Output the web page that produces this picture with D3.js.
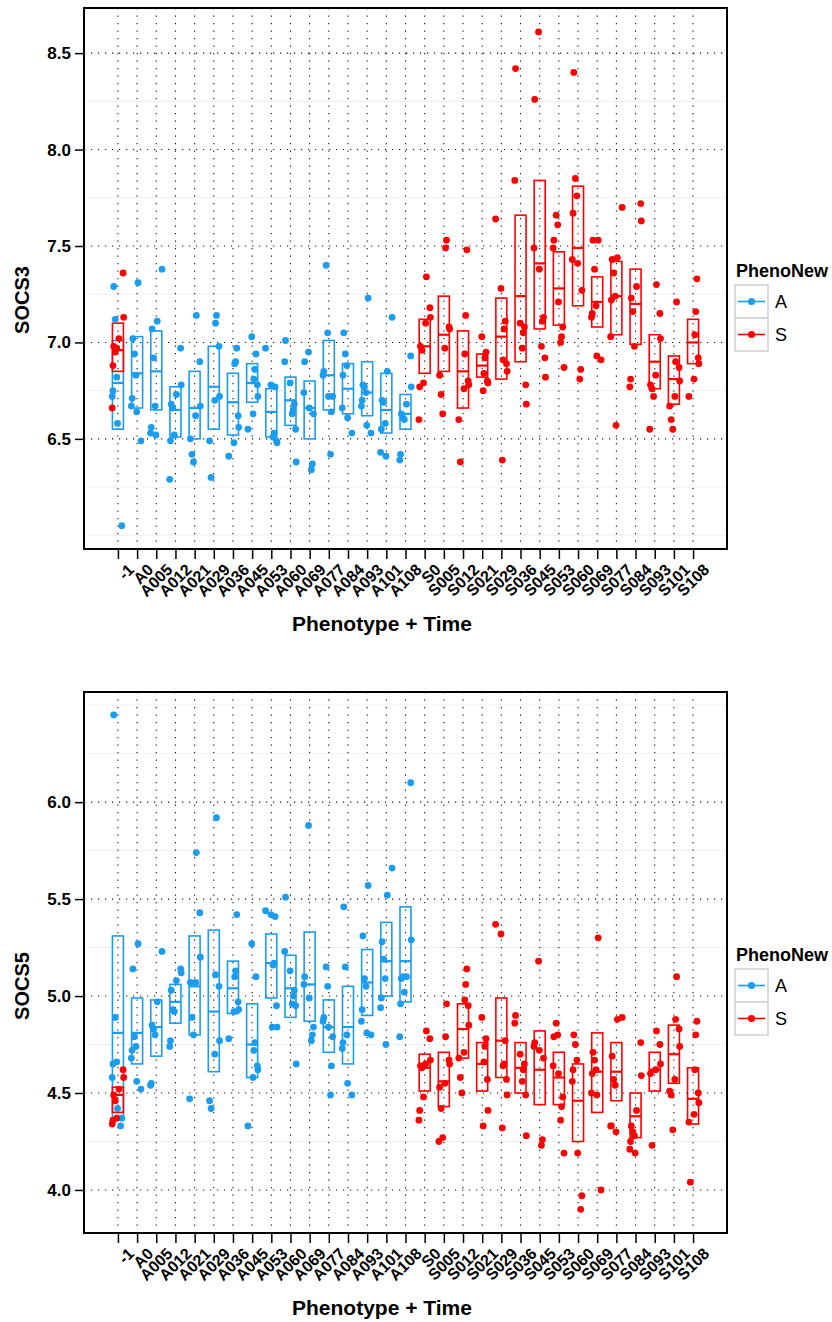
<!DOCTYPE html>
<html>
<head>
<meta charset="utf-8">
<script src="https://cdn.jsdelivr.net/npm/d3@7"></script>
<style>
  body { margin: 0; background: #fff; }
  text { font-family: "Liberation Sans", Arial, sans-serif; }
</style>
</head>
<body>
<div id="chart"></div>
<script>
// categories on the x axis (Phenotype + Time)
var categories = ["-1", "A0", "A005", "A012", "A021", "A029", "A036", "A045", "A053", "A060",
  "A069", "A077", "A084", "A093", "A101", "A108", "S0", "S005", "S012", "S021", "S029",
  "S036", "S045", "S053", "S060", "S069", "S077", "S084", "S093", "S101", "S108"];
var catsA = categories.slice(0, 16);
var catsS = ["-1"].concat(categories.slice(16));
var groups = ["A", "S"];

var socs3Ticks = [6.5, 7.0, 7.5, 8.0, 8.5];
var socs5Ticks = [4.0, 4.5, 5.0, 5.5, 6.0];

// boxes: [lower, middle, upper]
var socs3BoxA = [[6.55, 6.79, 7.01], [6.66, 6.84, 7.03], [6.65, 6.85, 7.06], [6.51, 6.65, 6.77],
  [6.50, 6.66, 6.85], [6.55, 6.77, 6.98], [6.52, 6.69, 6.84], [6.69, 6.79, 6.89],
  [6.51, 6.64, 6.76], [6.57, 6.70, 6.82], [6.50, 6.66, 6.80], [6.65, 6.83, 7.01],
  [6.63, 6.76, 6.89], [6.62, 6.74, 6.90], [6.53, 6.65, 6.84], [6.55, 6.63, 6.73]];
var socs3BoxS = [[6.85, 6.96, 7.10], [6.84, 6.98, 7.12], [6.85, 7.04, 7.24], [6.66, 6.85, 7.06],
  [6.82, 6.88, 6.94], [6.81, 7.03, 7.23], [6.90, 7.24, 7.66], [7.07, 7.41, 7.84],
  [7.09, 7.28, 7.47], [7.19, 7.49, 7.81], [7.08, 7.21, 7.34], [7.04, 7.24, 7.42],
  [6.99, 7.20, 7.38], [6.76, 6.90, 7.04], [6.68, 6.81, 6.93], [6.89, 7.00, 7.12]];

var socs3PointsA = [
  [7.29, 7.12, 6.82, 6.75, 6.72, 6.58, 6.05],
  [7.31, 7.02, 6.94, 6.83, 6.71, 6.67, 6.64, 6.49],
  [7.38, 7.11, 7.07, 6.92, 6.67, 6.56, 6.53, 6.52],
  [6.97, 6.78, 6.73, 6.68, 6.66, 6.52, 6.49, 6.29],
  [7.14, 6.90, 6.67, 6.62, 6.50, 6.42, 6.38],
  [7.14, 7.10, 6.98, 6.72, 6.70, 6.49, 6.30],
  [6.97, 6.90, 6.89, 6.62, 6.56, 6.48, 6.41],
  [7.03, 6.94, 6.86, 6.81, 6.78, 6.72, 6.63, 6.55],
  [6.97, 6.78, 6.77, 6.53, 6.51, 6.49, 6.48],
  [7.01, 6.90, 6.79, 6.68, 6.65, 6.63, 6.55, 6.38],
  [6.95, 6.90, 6.74, 6.66, 6.63, 6.37, 6.34],
  [7.40, 7.05, 6.85, 6.83, 6.72, 6.72, 6.64, 6.42],
  [7.05, 6.94, 6.88, 6.83, 6.66, 6.61, 6.53],
  [7.23, 6.78, 6.77, 6.74, 6.70, 6.67, 6.57, 6.53],
  [7.13, 6.85, 6.70, 6.69, 6.58, 6.55, 6.43, 6.41],
  [6.93, 6.77, 6.68, 6.63, 6.61, 6.60, 6.42, 6.39]];
var socs3PointsS = [
  [7.36, 7.13, 7.02, 6.98, 6.95, 6.97, 6.88, 6.66],
  [7.34, 7.18, 7.13, 7.10, 6.98, 6.96, 6.79, 6.77, 6.60],
  [7.53, 7.49, 7.08, 7.07, 6.97, 6.83, 6.73, 6.63],
  [7.48, 7.14, 6.94, 6.80, 6.78, 6.76, 6.60, 6.38],
  [7.03, 6.95, 6.92, 6.84, 6.80, 6.79, 6.75],
  [7.64, 7.28, 7.11, 7.07, 6.91, 6.89, 6.85, 6.39],
  [8.42, 7.84, 7.10, 7.08, 7.05, 6.97, 6.78, 6.68],
  [8.61, 8.26, 7.49, 7.38, 7.13, 7.11, 6.98, 6.92, 6.82],
  [7.66, 7.61, 7.53, 7.49, 7.21, 7.08, 7.03, 7.00, 6.87],
  [8.40, 7.85, 7.76, 7.67, 7.43, 7.41, 7.27, 6.86, 6.81],
  [7.53, 7.53, 7.38, 7.19, 7.15, 7.13, 6.93, 6.91],
  [7.70, 7.44, 7.43, 7.36, 7.24, 7.22, 7.03, 6.57],
  [7.72, 7.63, 7.29, 7.23, 7.16, 6.98, 6.81, 6.77],
  [7.30, 7.15, 7.02, 6.83, 6.78, 6.76, 6.72, 6.55],
  [7.21, 6.90, 6.87, 6.80, 6.72, 6.67, 6.60, 6.55],
  [7.33, 7.16, 7.04, 6.92, 6.89, 6.81, 6.72]];

var socs5BoxA = [[4.36, 4.81, 5.31], [4.65, 4.81, 4.99], [4.69, 4.84, 4.98], [4.86, 4.97, 5.06],
  [4.80, 5.05, 5.31], [4.61, 4.92, 5.34], [4.91, 5.04, 5.18], [4.58, 4.75, 4.96],
  [4.99, 5.17, 5.32], [4.89, 5.04, 5.21], [4.87, 5.06, 5.33], [4.71, 4.84, 4.98],
  [4.65, 4.84, 5.05], [4.90, 5.07, 5.24], [5.00, 5.18, 5.38], [4.97, 5.18, 5.46]];
var socs5BoxS = [[4.40, 4.49, 4.53], [4.51, 4.63, 4.70], [4.43, 4.56, 4.71], [4.68, 4.83, 4.96],
  [4.51, 4.65, 4.76], [4.58, 4.77, 4.99], [4.50, 4.63, 4.76], [4.44, 4.62, 4.82],
  [4.44, 4.58, 4.71], [4.25, 4.46, 4.65], [4.40, 4.61, 4.81], [4.46, 4.61, 4.76],
  [4.27, 4.38, 4.50], [4.51, 4.62, 4.71], [4.55, 4.70, 4.85], [4.34, 4.47, 4.63]];

var socs5PointsA = [
  [6.45, 4.89, 4.66, 4.65, 4.58, 4.42, 4.37, 4.33],
  [5.27, 5.14, 4.79, 4.74, 4.72, 4.68, 4.56, 4.52],
  [5.23, 4.97, 4.85, 4.83, 4.80, 4.55, 4.54],
  [5.14, 5.12, 5.08, 5.03, 4.93, 4.92, 4.77, 4.74],
  [5.74, 5.43, 5.20, 5.07, 5.07, 4.89, 4.80, 4.47],
  [5.92, 5.11, 5.05, 4.77, 4.70, 4.46, 4.42],
  [5.42, 5.13, 5.10, 4.97, 4.93, 4.92, 4.78],
  [5.27, 5.10, 4.76, 4.72, 4.64, 4.62, 4.58, 4.33],
  [5.44, 5.42, 5.41, 5.17, 5.16, 4.95, 4.84, 4.84],
  [5.51, 5.23, 5.13, 5.03, 5.00, 4.96, 4.95, 4.65],
  [5.88, 5.10, 5.06, 4.99, 4.84, 4.80, 4.77],
  [5.15, 5.05, 4.89, 4.87, 4.84, 4.79, 4.64, 4.49],
  [5.46, 5.15, 4.80, 4.76, 4.73, 4.55, 4.49],
  [5.57, 5.31, 5.09, 5.05, 4.93, 4.87, 4.81, 4.80],
  [5.66, 5.52, 5.28, 5.19, 5.09, 4.99, 4.94, 4.75],
  [6.10, 5.29, 5.10, 5.09, 5.10, 5.02, 4.96, 4.79]];
var socs5PointsS = [
  [4.62, 4.58, 4.52, 4.49, 4.46, 4.37, 4.36, 4.34],
  [4.82, 4.78, 4.67, 4.65, 4.64, 4.63, 4.48, 4.41, 4.36],
  [4.96, 4.79, 4.67, 4.65, 4.55, 4.53, 4.42, 4.27, 4.25],
  [5.14, 5.06, 4.98, 4.95, 4.85, 4.71, 4.68, 4.58, 4.50],
  [4.89, 4.78, 4.74, 4.66, 4.57, 4.41, 4.33],
  [5.37, 5.32, 4.77, 4.65, 4.64, 4.57, 4.49, 4.32],
  [4.90, 4.86, 4.70, 4.65, 4.62, 4.56, 4.49, 4.28],
  [5.18, 4.76, 4.74, 4.72, 4.68, 4.26, 4.23],
  [4.86, 4.80, 4.79, 4.64, 4.60, 4.48, 4.43, 4.36, 4.19],
  [4.80, 4.75, 4.67, 4.62, 4.56, 4.19, 3.97, 3.90],
  [5.30, 4.71, 4.67, 4.62, 4.60, 4.50, 4.49, 4.00],
  [4.89, 4.88, 4.69, 4.57, 4.54, 4.33, 4.33, 4.30],
  [4.76, 4.59, 4.41, 4.33, 4.30, 4.28, 4.25, 4.21, 4.19],
  [4.82, 4.75, 4.65, 4.62, 4.60, 4.23],
  [5.10, 4.88, 4.83, 4.74, 4.57, 4.51, 4.49, 4.31],
  [4.87, 4.80, 4.62, 4.50, 4.45, 4.39, 4.35, 4.04]];

var colors = { A: "#1a9cf0", S: "#ff0000" };
var jitter = [-0.22, 0.14, -0.06, 0.27, -0.3, 0.05, 0.2, -0.14, 0.09, -0.26, 0.3, -0.02];

var W = 832, H = 1322;
var svg = d3.select("#chart").append("svg").attr("width", W).attr("height", H);

var left = 84, right = 727, panelH = 541;
var x = d3.scalePoint().domain(categories).range([left, right]).padding(1.77);

function drawPanel(top, yDomain, ticks, minor, boxA, boxS, ptsA, ptsS, yTitle, yTitleY) {
  var y = d3.scaleLinear().domain(yDomain).range([top + panelH, top]);
  var g = svg.append("g");

  // minor grid
  g.selectAll(".minor").data(minor).enter().append("line")
    .attr("x1", left).attr("x2", right)
    .attr("y1", function (d) { return y(d); }).attr("y2", function (d) { return y(d); })
    .attr("stroke", "#f0f0f0").attr("stroke-width", 1);
  // major grid (dotted)
  g.selectAll(".major").data(ticks).enter().append("line")
    .attr("x1", left).attr("x2", right)
    .attr("y1", function (d) { return y(d); }).attr("y2", function (d) { return y(d); })
    .attr("stroke", "#111").attr("stroke-width", 1.1).attr("stroke-dasharray", "1.2,5.8");
  g.selectAll(".vgrid").data(categories).enter().append("line")
    .attr("x1", function (d) { return x(d); }).attr("x2", function (d) { return x(d); })
    .attr("y1", top).attr("y2", top + panelH)
    .attr("stroke", "#111").attr("stroke-width", 1.1).attr("stroke-dasharray", "1.2,6.3");

  var bw = 11;
  function boxes(cats, data, col) {
    var bg = g.append("g");
    bg.selectAll("rect").data(data).enter().append("rect")
      .attr("x", function (d, i) { return x(cats[i]) - bw / 2; })
      .attr("y", function (d) { return y(d[2]); })
      .attr("width", bw)
      .attr("height", function (d) { return y(d[0]) - y(d[2]); })
      .attr("fill", "none").attr("stroke", col).attr("stroke-width", 1.6);
    bg.selectAll("line").data(data).enter().append("line")
      .attr("x1", function (d, i) { return x(cats[i]) - bw / 2; })
      .attr("x2", function (d, i) { return x(cats[i]) + bw / 2; })
      .attr("y1", function (d) { return y(d[1]); })
      .attr("y2", function (d) { return y(d[1]); })
      .attr("stroke", col).attr("stroke-width", 2.2);
  }
  function points(cats, data, col, shift) {
    var flat = [];
    data.forEach(function (vals, i) {
      vals.forEach(function (v, j) {
        flat.push({ c: cats[i], v: v, k: (i * 5 + j * 7 + shift) % jitter.length });
      });
    });
    g.append("g").selectAll("circle").data(flat).enter().append("circle")
      .attr("cx", function (d) { return x(d.c) + jitter[d.k] * x.step(); })
      .attr("cy", function (d) { return y(d.v); })
      .attr("r", 3.4).attr("fill", col);
  }
  boxes(catsA, boxA, colors.A);
  boxes(catsS, boxS, colors.S);
  points(catsA, ptsA, colors.A, 0);
  points(catsS, ptsS, colors.S, 3);

  // panel border
  g.append("rect").attr("x", left).attr("y", top).attr("width", right - left).attr("height", panelH)
    .attr("fill", "none").attr("stroke", "#000").attr("stroke-width", 2);

  // y axis
  var ya = g.append("g").attr("transform", "translate(" + (left - 1) + ",0)")
    .call(d3.axisLeft(y).tickValues(ticks).tickSize(8).tickPadding(4).tickFormat(d3.format(".1f")));
  ya.select(".domain").remove();
  ya.selectAll("line").attr("stroke", "#000").attr("stroke-width", 1.5);
  ya.selectAll("text").attr("font-size", 17).attr("font-weight", "bold").attr("fill", "#000")
    .attr("font-family", "Liberation Sans, Arial, sans-serif");

  // x axis
  var xa = g.append("g").attr("transform", "translate(0," + (top + panelH + 1) + ")")
    .call(d3.axisBottom(x).tickSize(9).tickPadding(2));
  xa.select(".domain").remove();
  xa.selectAll("line").attr("stroke", "#000").attr("stroke-width", 1.5);
  xa.selectAll("text")
    .attr("font-size", 16).attr("font-weight", "bold").attr("fill", "#000")
    .attr("font-family", "Liberation Sans, Arial, sans-serif")
    .attr("text-anchor", "end")
    .attr("dy", "0.35em")
    .attr("transform", "translate(5,9) rotate(-45)");

  // titles
  g.append("text").attr("x", 382).attr("y", top + panelH + 82)
    .attr("text-anchor", "middle").attr("font-size", 21).attr("font-weight", "bold")
    .text("Phenotype + Time");
  g.append("text").attr("transform", "translate(29," + yTitleY + ") rotate(-90)")
    .attr("text-anchor", "middle").attr("font-size", 20).attr("font-weight", "bold")
    .text(yTitle);

  // legend
  var lg = g.append("g").attr("transform", "translate(735," + (top + 262) + ")");
  lg.append("text").attr("x", 1).attr("y", 7).attr("font-size", 18).attr("font-weight", "bold")
    .text("PhenoNew");
  groups.forEach(function (k, i) {
    var ky = 15 + i * 33;
    lg.append("rect").attr("x", 0).attr("y", ky).attr("width", 33).attr("height", 33)
      .attr("fill", "#fff").attr("stroke", "#d0d0d0").attr("stroke-width", 1.5);
    lg.append("line").attr("x1", 3).attr("x2", 30).attr("y1", ky + 16.5).attr("y2", ky + 16.5)
      .attr("stroke", colors[k]).attr("stroke-width", 1.6);
    lg.append("circle").attr("cx", 16.5).attr("cy", ky + 16.5).attr("r", 3.6).attr("fill", colors[k]);
    lg.append("text").attr("x", 40).attr("y", ky + 23).attr("font-size", 18).text(k);
  });
}

drawPanel(8, [5.929, 8.734], socs3Ticks, [6.0, 6.25, 6.75, 7.25, 7.75, 8.25],
  socs3BoxA, socs3BoxS, socs3PointsA, socs3PointsS, "SOCS3", 300);
drawPanel(692, [3.778, 6.568], socs5Ticks, [4.25, 4.75, 5.25, 5.75, 6.25, 6.5],
  socs5BoxA, socs5BoxS, socs5PointsA, socs5PointsS, "SOCS5", 986);
</script>
</body>
</html>
